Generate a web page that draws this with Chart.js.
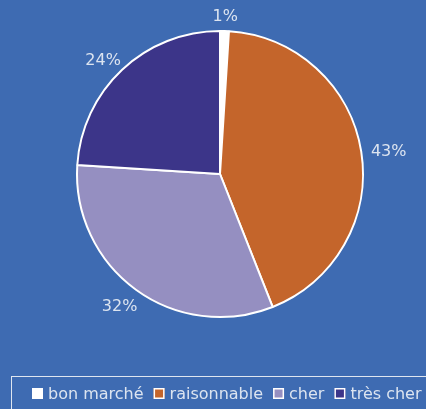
<!DOCTYPE html>
<html>
<head>
<meta charset="utf-8">
<script src="https://cdn.jsdelivr.net/npm/chart.js@4"></script>
<style>
    html, body { margin: 0; padding: 0; background: #3e6bb2; }
    #wrap { width: 426px; height: 409px; }
</style>
</head>
<body>
<div id="wrap"><canvas id="pie" width="426" height="409"></canvas></div>
<script>
// ===== DATA =====
const categories = ['bon marché', 'raisonnable', 'cher', 'très cher'];
const shares = [1, 43, 32, 24];
const sliceColors = ['#ffffff', '#c4652b', '#958fc1', '#3c3589'];

const TEXT_COLOR = '#dce4f0';
const FONT = '16px "DejaVu Sans"';

// percent labels just outside each slice
const outsideLabels = {
    id: 'outsideLabels',
    afterDatasetsDraw(chart) {
        const ctx = chart.ctx;
        const meta = chart.getDatasetMeta(0);
        ctx.save();
        ctx.font = FONT;
        ctx.fillStyle = TEXT_COLOR;
        ctx.textAlign = 'center';
        ctx.textBaseline = 'middle';
        meta.data.forEach((arc, i) => {
            const mid = (arc.startAngle + arc.endAngle) / 2;
            const dx = Math.cos(mid), dy = Math.sin(mid);
            const r = arc.outerRadius + 10;
            const text = shares[i] + '%';
            const w = ctx.measureText(text).width;
            const x = arc.x + dx * r + dx * w / 2;
            const y = arc.y + dy * r + dy * 7 + 3;
            ctx.fillText(text, x, y);
        });
        ctx.restore();
    }
};

// boxed legend along the bottom edge
const boxLegend = {
    id: 'boxLegend',
    afterDraw(chart) {
        const ctx = chart.ctx;
        ctx.save();
        ctx.strokeStyle = '#dfe6f0';
        ctx.lineWidth = 1;
        ctx.strokeRect(11.5, 376.5, 430, 40);

        ctx.font = FONT;
        ctx.textBaseline = 'alphabetic';
        let x = 32;
        categories.forEach((name, i) => {
            ctx.fillStyle = sliceColors[i];
            ctx.fillRect(x, 388, 11, 11);
            ctx.strokeStyle = '#ffffff';
            ctx.lineWidth = 1.5;
            ctx.strokeRect(x + 0.75, 388.75, 9.5, 9.5);
            x += 16;
            ctx.fillStyle = TEXT_COLOR;
            ctx.fillText(name, x, 399);
            x += ctx.measureText(name).width + 10;
        });
        ctx.restore();
    }
};

new Chart(document.getElementById('pie'), {
    type: 'pie',
    data: {
        labels: categories,
        datasets: [{
            data: shares,
            backgroundColor: sliceColors,
            borderColor: '#ffffff',
            borderWidth: 2
        }]
    },
    options: {
        responsive: false,
        animation: false,
        layout: {
            padding: { left: 76, right: 62, top: 30, bottom: 91 }
        },
        plugins: {
            legend: { display: false },
            tooltip: { enabled: false }
        }
    },
    plugins: [outsideLabels, boxLegend]
});
</script>
</body>
</html>
